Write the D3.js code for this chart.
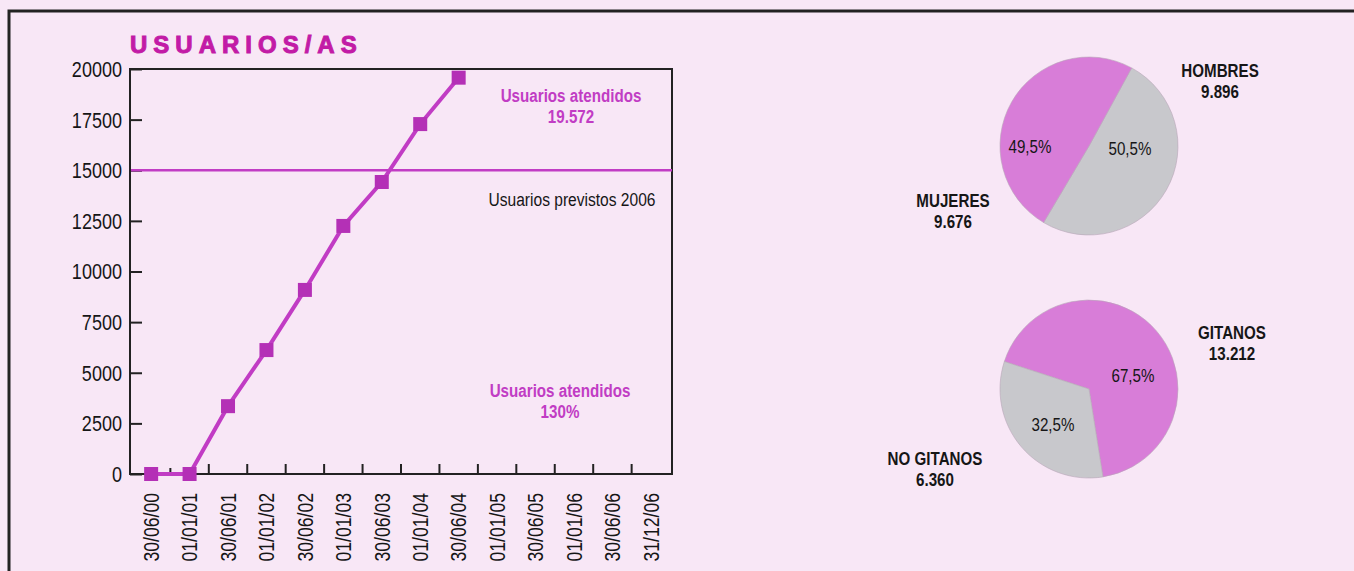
<!DOCTYPE html>
<html>
<head>
<meta charset="utf-8">
<script src="https://cdn.jsdelivr.net/npm/d3@7"></script>
<style>
  body { margin: 0; background: #ffffff; }
  svg { display: block; }
</style>
</head>
<body>
<div id="chart"></div>
<script>
// chart data
const fechas = ["30/06/00", "01/01/01", "30/06/01", "01/01/02", "30/06/02", "01/01/03", "30/06/03",
    "01/01/04", "30/06/04", "01/01/05", "30/06/05", "01/01/06", "30/06/06", "31/12/06"];
const usuarios = [0, 0, 3350, 6120, 9090, 12250, 14420, 17280, 19572];
const previstos = 15000;
const yTicks = [0, 2500, 5000, 7500, 10000, 12500, 15000, 17500, 20000];

const sexoLabels = ["HOMBRES", "MUJERES"];
const sexoValues = [9896, 9676];
const sexoPct = ["50,5%", "49,5%"];

const etniaLabels = ["GITANOS", "NO GITANOS"];
const etniaValues = [13212, 6360];
const etniaPct = ["67,5%", "32,5%"];

const W = 1354, H = 571;
const FONT = '"Liberation Sans", Arial, sans-serif';
const SQUEEZE = 0.82; // condensed look of the printed type
const MAG = "#c13cc4";
const MAG_DARK = "#b430b6";
const PIE_MAG = "#d87dd8";
const PIE_GRAY = "#c8c8cc";
const INK = "#161616";

const svg = d3.select("#chart").append("svg").attr("width", W).attr("height", H);
svg.append("rect").attr("width", W).attr("height", H).attr("fill", "#f8e7f6");

// page border
svg.append("path")
    .attr("d", "M9," + H + "V11H" + W)
    .attr("fill", "none").attr("stroke", "#222").attr("stroke-width", 3);

// condensed text helper
function ntext(g, x, y, txt, opts) {
    opts = opts || {};
    return g.append("text")
        .attr("transform", "translate(" + x + "," + y + ")" + (opts.rotate ? " rotate(" + opts.rotate + ")" : "") + " scale(" + SQUEEZE + ",1)")
        .attr("dy", "0.36em")
        .attr("text-anchor", opts.anchor || "middle")
        .attr("font-family", FONT)
        .attr("font-weight", opts.weight || "normal")
        .attr("font-size", opts.size || 18)
        .attr("fill", opts.color || INK)
        .text(txt);
}
function block(g, lines, cx, cy, opts) {
    lines.forEach((l, i) => ntext(g, cx, cy + i * 21, l, opts));
}

// ---------- line chart ----------
const plot = { left: 130, right: 672, top: 69, bottom: 474 };

const x = d3.scalePoint().domain(fechas).range([plot.left, plot.right]).padding(0.55);
const y = d3.scaleLinear().domain([0, 20000]).range([plot.bottom, plot.top]);

svg.append("text")
    .attr("x", plot.left).attr("y", 53)
    .attr("font-family", FONT).attr("font-weight", "bold")
    .attr("font-size", 24).attr("letter-spacing", 6)
    .attr("fill", "#c21ba6").attr("stroke", "#c21ba6").attr("stroke-width", 1)
    .text("USUARIOS/AS");

// frame
svg.append("rect")
    .attr("x", plot.left).attr("y", plot.top)
    .attr("width", plot.right - plot.left).attr("height", plot.bottom - plot.top)
    .attr("fill", "none").attr("stroke", "#222").attr("stroke-width", 2);

// y axis: ticks point inside
const yAxis = svg.append("g")
    .attr("transform", "translate(" + plot.left + ",0)")
    .call(d3.axisRight(y).tickValues(yTicks).tickSize(12).tickFormat(""));
yAxis.select(".domain").remove();
yAxis.selectAll("line").attr("stroke", "#222").attr("stroke-width", 2);

const yLab = svg.append("g");
yTicks.forEach((t) => ntext(yLab, plot.left - 8, y(t), t, { anchor: "end", size: 22 }));

// x ticks sit between dates and point up
const step = x.step();
const xTickPos = fechas.slice(1).map((f) => x(f) - step / 2);
svg.append("g").selectAll("line")
    .data(xTickPos)
    .join("line")
    .attr("x1", (d) => d).attr("x2", (d) => d)
    .attr("y1", plot.bottom).attr("y2", (d, i) => plot.bottom - (i === 0 ? 6 : 10))
    .attr("stroke", "#222").attr("stroke-width", 2);

const xLab = svg.append("g");
fechas.forEach((f) => ntext(xLab, x(f), plot.bottom + 19, f, { anchor: "end", size: 21.5, rotate: -90 }));

// expected users line
svg.append("line")
    .attr("x1", plot.left + 1).attr("x2", plot.right)
    .attr("y1", y(previstos)).attr("y2", y(previstos))
    .attr("stroke", MAG).attr("stroke-width", 2.5);

const serie = usuarios.map((v, i) => ({ fecha: fechas[i], v: v }));
svg.append("path")
    .datum(serie)
    .attr("fill", "none")
    .attr("stroke", MAG)
    .attr("stroke-width", 4)
    .attr("d", d3.line().x((d) => x(d.fecha)).y((d) => y(d.v)));

svg.append("g").selectAll("rect")
    .data(serie)
    .join("rect")
    .attr("x", (d) => x(d.fecha) - 7)
    .attr("y", (d) => y(d.v) - 7)
    .attr("width", 14).attr("height", 14)
    .attr("fill", MAG_DARK);

// annotations
const fmt = (v) => d3.format(",")(v).replace(",", ".");
block(svg, ["Usuarios atendidos", fmt(usuarios[usuarios.length - 1])], 571, 95,
    { weight: "bold", color: MAG, size: 18.5 });
block(svg, ["Usuarios previstos 2006"], 572, 199, { size: 19 });
block(svg, ["Usuarios atendidos", "130%"], 560, 390, { weight: "bold", color: MAG, size: 18.5 });

// ---------- pies ----------
const radius = 89;
const arc = d3.arc().innerRadius(0).outerRadius(radius);

function drawPie(cx, cy, startAngle, labels, values, pcts, colors, pctPos, namePos) {
    const g = svg.append("g").attr("transform", "translate(" + cx + "," + cy + ")");
    const pie = d3.pie().sort(null).startAngle(startAngle).endAngle(startAngle + 2 * Math.PI);
    g.selectAll("path")
        .data(pie(values))
        .join("path")
        .attr("d", arc)
        .attr("fill", (d, i) => colors[i])
        .attr("stroke", "#b9a6b9")
        .attr("stroke-width", 0.6);
    pcts.forEach((p, i) => ntext(g, pctPos[i][0], pctPos[i][1], p, { size: 18.5 }));
    labels.forEach((l, i) => {
        block(g, [l, fmt(values[i])], namePos[i][0], namePos[i][1], { weight: "bold", size: 18.5 });
    });
}

drawPie(1089, 146, 0.5, sexoLabels, sexoValues, sexoPct, [PIE_GRAY, PIE_MAG],
    [[41, 2], [-59, 0]], [[131, -76], [-136, 54]]);
drawPie(1089, 389, -1.257, etniaLabels, etniaValues, etniaPct, [PIE_MAG, PIE_GRAY],
    [[44, -14], [-36, 35]], [[143, -57], [-154, 69]]);
</script>
</body>
</html>
